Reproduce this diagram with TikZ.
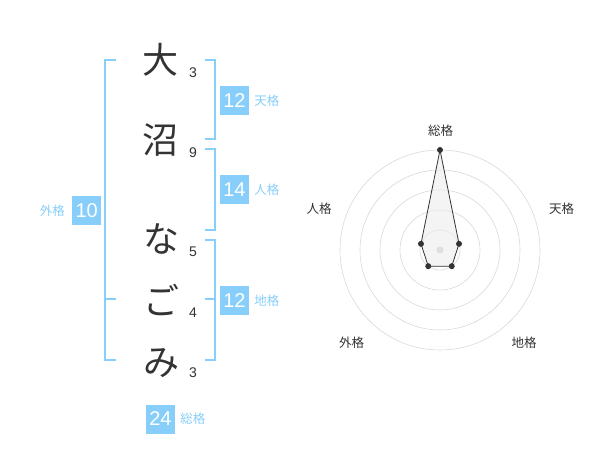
\documentclass[tikz,border=0pt]{standalone}
\usepackage{fontspec}
\usepackage{tikz}
\usetikzlibrary{positioning}
\usetikzlibrary{math}
\setmainfont{Liberation Sans}
\newfontfamily\jpfont{Noto Sans CJK JP}
\definecolor{sky}{RGB}{135,206,250}
\definecolor{ink}{RGB}{51,51,51}
\tikzstyle{kanji} = [font=\jpfont\fontsize{36}{36}\selectfont, text=ink, inner sep=0pt]
\tikzstyle{strokes} = [font=\fontsize{14}{14}\selectfont, text=ink, inner sep=0pt]
\tikzstyle{score} = [fill=sky, text=white, minimum width=29pt, minimum height=29pt, inner sep=0pt, font=\fontsize{20}{20}\selectfont]
\tikzstyle{kaku} = [text=sky, inner sep=0pt, font=\jpfont\fontsize{12.5}{12.5}\selectfont]
\tikzstyle{bracket} = [draw=sky, line width=1.5pt]
\tikzstyle{axis} = [text=ink, inner sep=0pt, font=\jpfont\fontsize{12.5}{12.5}\selectfont]

\begin{document}
\begin{tikzpicture}[x=1pt, y=-1pt, node distance=5pt]

  \useasboundingbox (0,0) rectangle (600,470);

  % name
  \begin{scope}
    \node[kanji] (c1) at (160,60) {大};
    \node[kanji] (c2) at (160,140) {沼};
    \node[kanji] (c3) at (161,239) {な};
    \node[kanji] (c4) at (161,300) {ご};
    \node[kanji] (c5) at (161,363) {み};

    \node[strokes] (k1) at (193,73) {3};
    \node[strokes] (k2) at (193,153) {9};
    \node[strokes] (k3) at (193,252) {5};
    \node[strokes] (k4) at (193,313) {4};
    \node[strokes] (k5) at (193,373) {3};

    % brackets
    \draw[bracket] (116,60) -- (105,60) -- (105,360) -- (116,360);
    \draw[bracket] (105,299) -- (116,299);
    \draw[bracket] (205,60) -- (215,60) -- (215,139) -- (205,139);
    \draw[bracket] (205,149) -- (215,149) -- (215,230) -- (205,230);
    \draw[bracket] (205,240) -- (215,240) -- (215,360) -- (205,360);
    \draw[bracket] (205,299) -- (215,299);

    % scores
    \node[score] (ten) at (234.5,100.5) {12};
    \node[kaku, right=of ten] (ten-l) {天格};
    \node[score] (jin) at (234.5,190) {14};
    \node[kaku, right=of jin] (jin-l) {人格};
    \node[score] (chi) at (234.5,300.5) {12};
    \node[kaku, right=of chi] (chi-l) {地格};
    \node[score] (gai) at (86.7,210.5) {10};
    \node[kaku, left=7pt of gai] (gai-l) {外格};
    \node[score] (sou) at (160.5,419) {24};
    \node[kaku, right=of sou] (sou-l) {総格};
  \end{scope}

  % radar
  \begin{scope}[shift={(440,250)}, yscale=-1]
    \foreach \r in {20,40,60,80,100} {
      \draw[gray!30, line width=0.6pt] (0,0) circle[radius=\r];
    }
    \fill[gray!40] (0,0) circle[radius=3.5];

    \foreach \ang/\r/\nm in {90/100/sou, 18/20/ten, -54/20/chi, -126/20/gai, 162/20/jin} {
      \coordinate (p-\nm) at (\ang:\r);
    }
    \draw[ink, fill=gray!15, fill opacity=0.6, draw opacity=1, line width=0.8pt]
      (p-sou) -- (p-ten) -- (p-chi) -- (p-gai) -- (p-jin) -- cycle;
    \foreach \nm in {sou, ten, chi, gai, jin} {
      \fill[ink] (p-\nm) circle[radius=3];
    }

    \node[axis] (a-sou) at (0.7,119.5) {総格};
    \node[axis] (a-ten) at (121.7,41) {天格};
    \node[axis] (a-chi) at (84,-92.3) {地格};
    \node[axis] (a-gai) at (-88.3,-92.3) {外格};
    \node[axis] (a-jin) at (-121,41) {人格};
  \end{scope}

\end{tikzpicture}
\end{document}
